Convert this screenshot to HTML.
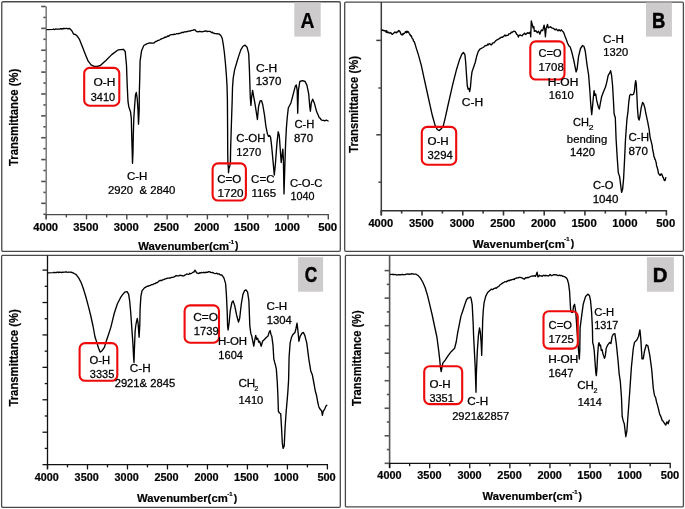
<!DOCTYPE html>
<html><head><meta charset="utf-8"><style>
html,body{margin:0;padding:0;background:#fff;}
svg{display:block;will-change:transform;}
text{font-family:"Liberation Sans",sans-serif;}
</style></head><body>
<svg width="685" height="509" viewBox="0 0 685 509">
<rect width="685" height="509" fill="#fff"/>
<rect x="1.75" y="1.75" width="338.55" height="249.55" rx="1.2" fill="none" stroke="#4a4a4a" stroke-width="1.3"/>
<rect x="294.30" y="2.50" width="26.40" height="34.10" rx="0" fill="#cdcbcb"/>
<line x1="46.20" y1="6.50" x2="46.20" y2="219.20" stroke="#808080" stroke-width="1.6"/>
<line x1="45.60" y1="214.60" x2="328.90" y2="214.60" stroke="#4a4a4a" stroke-width="1.4"/>
<line x1="46.20" y1="214.60" x2="46.20" y2="219.40" stroke="#4a4a4a" stroke-width="1.4"/>
<line x1="66.35" y1="214.60" x2="66.35" y2="217.40" stroke="#4a4a4a" stroke-width="1.4"/>
<line x1="86.50" y1="214.60" x2="86.50" y2="219.40" stroke="#4a4a4a" stroke-width="1.4"/>
<line x1="106.65" y1="214.60" x2="106.65" y2="217.40" stroke="#4a4a4a" stroke-width="1.4"/>
<line x1="126.80" y1="214.60" x2="126.80" y2="219.40" stroke="#4a4a4a" stroke-width="1.4"/>
<line x1="146.95" y1="214.60" x2="146.95" y2="217.40" stroke="#4a4a4a" stroke-width="1.4"/>
<line x1="167.10" y1="214.60" x2="167.10" y2="219.40" stroke="#4a4a4a" stroke-width="1.4"/>
<line x1="187.25" y1="214.60" x2="187.25" y2="217.40" stroke="#4a4a4a" stroke-width="1.4"/>
<line x1="207.40" y1="214.60" x2="207.40" y2="219.40" stroke="#4a4a4a" stroke-width="1.4"/>
<line x1="227.55" y1="214.60" x2="227.55" y2="217.40" stroke="#4a4a4a" stroke-width="1.4"/>
<line x1="247.70" y1="214.60" x2="247.70" y2="219.40" stroke="#4a4a4a" stroke-width="1.4"/>
<line x1="267.85" y1="214.60" x2="267.85" y2="217.40" stroke="#4a4a4a" stroke-width="1.4"/>
<line x1="288.00" y1="214.60" x2="288.00" y2="219.40" stroke="#4a4a4a" stroke-width="1.4"/>
<line x1="308.15" y1="214.60" x2="308.15" y2="217.40" stroke="#4a4a4a" stroke-width="1.4"/>
<line x1="328.30" y1="214.60" x2="328.30" y2="219.40" stroke="#4a4a4a" stroke-width="1.4"/>
<line x1="41.20" y1="6.50" x2="45.70" y2="6.50" stroke="#505050" stroke-width="1.6"/>
<line x1="43.40" y1="17.44" x2="45.70" y2="17.44" stroke="#505050" stroke-width="1.6"/>
<line x1="41.20" y1="28.37" x2="45.70" y2="28.37" stroke="#505050" stroke-width="1.6"/>
<line x1="43.40" y1="39.30" x2="45.70" y2="39.30" stroke="#505050" stroke-width="1.6"/>
<line x1="41.20" y1="50.24" x2="45.70" y2="50.24" stroke="#505050" stroke-width="1.6"/>
<line x1="43.40" y1="61.18" x2="45.70" y2="61.18" stroke="#505050" stroke-width="1.6"/>
<line x1="41.20" y1="72.11" x2="45.70" y2="72.11" stroke="#505050" stroke-width="1.6"/>
<line x1="43.40" y1="83.05" x2="45.70" y2="83.05" stroke="#505050" stroke-width="1.6"/>
<line x1="41.20" y1="93.98" x2="45.70" y2="93.98" stroke="#505050" stroke-width="1.6"/>
<line x1="43.40" y1="104.92" x2="45.70" y2="104.92" stroke="#505050" stroke-width="1.6"/>
<line x1="41.20" y1="115.85" x2="45.70" y2="115.85" stroke="#505050" stroke-width="1.6"/>
<line x1="43.40" y1="126.79" x2="45.70" y2="126.79" stroke="#505050" stroke-width="1.6"/>
<line x1="41.20" y1="137.72" x2="45.70" y2="137.72" stroke="#505050" stroke-width="1.6"/>
<line x1="43.40" y1="148.66" x2="45.70" y2="148.66" stroke="#505050" stroke-width="1.6"/>
<line x1="41.20" y1="159.59" x2="45.70" y2="159.59" stroke="#505050" stroke-width="1.6"/>
<line x1="43.40" y1="170.53" x2="45.70" y2="170.53" stroke="#505050" stroke-width="1.6"/>
<line x1="41.20" y1="181.46" x2="45.70" y2="181.46" stroke="#505050" stroke-width="1.6"/>
<line x1="43.40" y1="192.40" x2="45.70" y2="192.40" stroke="#505050" stroke-width="1.6"/>
<line x1="41.20" y1="203.33" x2="45.70" y2="203.33" stroke="#505050" stroke-width="1.6"/>
<line x1="43.40" y1="214.27" x2="45.70" y2="214.27" stroke="#505050" stroke-width="1.6"/>
<text transform="translate(33.18,230.69) scale(1.033,1)" font-size="10.85" font-weight="bold" stroke="#000" stroke-width="0.2" fill="#000" >4000</text>
<text transform="translate(73.37,230.69) scale(1.037,1)" font-size="10.85" font-weight="bold" stroke="#000" stroke-width="0.2" fill="#000" >3500</text>
<text transform="translate(113.67,230.69) scale(1.037,1)" font-size="10.85" font-weight="bold" stroke="#000" stroke-width="0.2" fill="#000" >3000</text>
<text transform="translate(153.85,230.69) scale(1.042,1)" font-size="10.85" font-weight="bold" stroke="#000" stroke-width="0.2" fill="#000" >2500</text>
<text transform="translate(194.15,230.69) scale(1.042,1)" font-size="10.85" font-weight="bold" stroke="#000" stroke-width="0.2" fill="#000" >2000</text>
<text transform="translate(234.10,230.69) scale(1.057,1)" font-size="10.85" font-weight="bold" stroke="#000" stroke-width="0.2" fill="#000" >1500</text>
<text transform="translate(274.40,230.69) scale(1.057,1)" font-size="10.85" font-weight="bold" stroke="#000" stroke-width="0.2" fill="#000" >1000</text>
<text transform="translate(318.14,230.69) scale(1.054,1)" font-size="10.85" font-weight="bold" stroke="#000" stroke-width="0.2" fill="#000" >500</text>
<text transform="translate(18.00,166.01) rotate(-90) scale(0.867,1)" font-size="13.04" font-weight="bold" stroke="#000" stroke-width="0.2">Transmittance (%)</text>
<text transform="translate(138.20,249.50) scale(1.004,1)" font-size="11.30" font-weight="bold" stroke="#000" stroke-width="0.2" fill="#000" >Wavenumber(cm</text>
<text transform="translate(228.66,243.50) scale(1.078,1)" font-size="5.51" font-weight="bold" stroke="#000" stroke-width="0.2" fill="#000" >-1</text>
<text transform="translate(235.05,249.34) scale(1.009,1)" font-size="10.27" font-weight="bold" stroke="#000" stroke-width="0.2" fill="#000" >)</text>
<path d="M46.9,29.6 L52.8,29.3 L53.5,29.0 L54.3,29.5 L55.0,29.4 L55.8,29.0 L56.5,29.2 L57.2,29.1 L58.0,29.2 L58.7,29.1 L59.4,29.2 L60.2,28.7 L60.9,28.6 L61.7,29.1 L62.4,28.7 L63.1,28.9 L63.9,28.3 L64.6,28.5 L65.4,28.6 L66.1,28.4 L66.8,28.3 L67.6,28.9 L68.3,28.9 L69.1,28.4 L69.8,28.8 L70.5,29.2 L71.3,30.3 L72.0,31.0 L73.5,34.0 L75.7,34.7 L77.1,35.9 L79.3,39.1 L82.3,46.5 L85.2,53.9 L88.2,61.2 L91.1,64.9 L94.1,66.4 L97.0,66.5 L100.0,65.7 L105.9,60.5 L111.7,54.6 L117.6,50.2 L120.1,49.7 L123.5,49.3 L125.2,51.5 L126.5,65.5 L127.2,85.0 L128.0,101.7 L128.8,106.7 L130.5,111.7 L131.3,118.3 L131.7,135.0 L132.2,151.7 L132.5,163.3 L133.0,151.7 L133.3,135.0 L133.8,118.3 L134.7,105.0 L135.5,95.0 L136.3,92.5 L137.2,98.3 L138.0,110.0 L138.5,124.2 L139.2,110.0 L139.3,93.3 L139.7,80.0 L140.1,60.9 L141.6,50.7 L143.8,45.5 L146.7,43.8 L149.6,42.9 L153.2,43.1 L153.9,43.1 L154.7,42.2 L155.4,41.7 L156.2,41.5 L156.9,41.2 L157.6,40.5 L158.4,40.3 L159.1,40.1 L159.8,39.8 L160.6,39.3 L161.3,38.9 L162.0,38.6 L162.7,38.4 L163.5,38.0 L164.2,37.8 L164.9,37.1 L165.7,37.4 L166.4,36.9 L167.1,36.6 L167.8,35.9 L168.6,36.3 L169.3,35.8 L170.0,34.9 L170.8,34.8 L171.5,34.6 L172.2,34.7 L173.0,34.5 L173.7,34.6 L174.4,34.1 L175.2,34.3 L175.9,34.0 L176.6,33.6 L177.3,33.7 L178.1,33.8 L178.8,33.4 L179.5,33.5 L180.3,33.1 L181.0,33.0 L181.7,32.3 L182.4,32.3 L183.2,32.6 L183.9,32.1 L184.6,31.8 L185.4,31.9 L186.1,31.7 L186.8,31.7 L187.6,31.5 L188.3,31.1 L189.0,31.1 L189.8,31.0 L190.5,31.0 L191.2,30.7 L191.9,30.4 L192.7,30.3 L193.4,30.2 L194.1,29.6 L194.8,29.8 L195.6,30.4 L196.3,31.4 L197.0,31.6 L197.8,31.9 L198.5,31.6 L199.2,31.5 L200.0,31.4 L200.7,31.7 L201.4,31.6 L202.2,31.9 L202.9,31.6 L203.6,31.3 L204.4,31.4 L205.1,31.0 L205.8,30.9 L206.6,31.1 L207.3,31.6 L208.0,31.3 L208.8,31.3 L209.5,31.4 L210.2,31.5 L210.9,32.0 L211.7,32.6 L212.4,32.1 L213.1,33.0 L213.8,33.1 L214.5,33.5 L215.2,33.6 L215.9,33.6 L216.7,33.8 L217.4,33.7 L218.1,33.8 L218.8,33.9 L219.8,34.6 L220.8,35.5 L222.2,38.3 L223.2,43.8 L224.3,52.0 L225.4,63.0 L226.3,74.0 L227.0,85.0 L227.4,100.0 L227.6,127.0 L227.7,150.0 L227.9,163.0 L228.4,168.5 L228.5,172.7 L228.9,168.5 L229.8,166.0 L230.4,163.0 L230.6,150.0 L231.3,127.0 L232.2,100.0 L232.5,87.8 L233.2,78.1 L234.6,69.9 L236.6,63.0 L238.7,56.1 L240.8,49.9 L242.8,46.5 L244.9,45.1 L247.1,47.3 L248.7,53.6 L249.4,69.3 L250.3,97.4 L250.9,105.4 L251.6,97.4 L252.6,90.4 L253.5,95.7 L254.8,102.7 L256.5,113.3 L257.4,119.5 L258.6,106.3 L260.1,101.0 L261.5,100.6 L262.7,104.5 L264.5,115.1 L265.9,126.3 L267.5,134.2 L268.6,136.5 L269.5,135.4 L270.6,137.3 L271.7,146.7 L273.0,160.9 L274.3,175.0 L275.4,164.0 L276.9,143.6 L278.2,131.8 L279.3,135.7 L280.4,151.4 L281.2,162.5 L282.0,156.2 L282.8,149.1 L283.4,159.3 L284.0,193.9 L284.8,167.2 L285.6,143.6 L286.4,127.9 L287.2,118.0 L288.3,108.0 L291.0,102.7 L293.3,93.9 L295.4,85.9 L296.3,85.0 L297.2,90.4 L297.7,113.3 L298.4,90.4 L299.8,81.5 L302.5,80.6 L305.1,81.5 L306.9,85.1 L308.7,93.9 L309.9,108.0 L310.4,111.2 L311.3,102.7 L312.7,99.2 L314.5,103.6 L316.6,111.6 L319.3,117.8 L320.2,118.1 L321.0,119.7 L321.9,120.1 L322.8,120.4 L323.7,120.3 L324.6,120.8 L325.5,120.5 L326.4,120.1 L327.2,120.5 L328.1,121.0" fill="none" stroke="#000" stroke-width="1.35" stroke-linejoin="round" stroke-linecap="round"/>
<rect x="84.20" y="67.90" width="35.10" height="37.80" rx="5.5" fill="none" stroke="#ee0a0a" stroke-width="2.1"/>
<rect x="212.60" y="163.40" width="33.30" height="37.10" rx="5.5" fill="none" stroke="#ee0a0a" stroke-width="2.1"/>
<text transform="translate(93.46,86.20) scale(1.148,1)" font-size="10.42" stroke="#000" stroke-width="0.25" fill="#000" >O-H</text>
<text transform="translate(90.76,100.69) scale(0.997,1)" font-size="10.99" stroke="#000" stroke-width="0.25" fill="#000" >3410</text>
<text transform="translate(126.92,180.39) scale(1.079,1)" font-size="10.70" stroke="#000" stroke-width="0.25" fill="#000" >C-H</text>
<text transform="translate(107.93,194.09) scale(1.007,1)" font-size="11.27" stroke="#000" stroke-width="0.25" fill="#000" >2920 &#160;&amp; 2840</text>
<text transform="translate(217.23,182.90) scale(1.143,1)" font-size="10.05" stroke="#000" stroke-width="0.25" fill="#000" >C=O</text>
<text transform="translate(217.53,196.89) scale(1.104,1)" font-size="10.56" stroke="#000" stroke-width="0.25" fill="#000" >1720</text>
<text transform="translate(251.12,183.09) scale(1.077,1)" font-size="10.70" stroke="#000" stroke-width="0.25" fill="#000" >C=C</text>
<text transform="translate(251.44,196.89) scale(1.089,1)" font-size="10.56" stroke="#000" stroke-width="0.25" fill="#000" >1165</text>
<text transform="translate(236.23,141.90) scale(1.115,1)" font-size="10.28" stroke="#000" stroke-width="0.25" fill="#000" >C-OH</text>
<text transform="translate(236.26,155.60) scale(1.073,1)" font-size="10.42" stroke="#000" stroke-width="0.25" fill="#000" >1270</text>
<text transform="translate(255.90,71.70) scale(1.198,1)" font-size="10.05" stroke="#000" stroke-width="0.25" fill="#000" >C-H</text>
<text transform="translate(255.63,84.90) scale(1.151,1)" font-size="10.05" stroke="#000" stroke-width="0.25" fill="#000" >1370</text>
<text transform="translate(294.44,128.30) scale(1.119,1)" font-size="10.05" stroke="#000" stroke-width="0.25" fill="#000" >C-H</text>
<text transform="translate(293.98,141.50) scale(1.140,1)" font-size="10.05" stroke="#000" stroke-width="0.25" fill="#000" >870</text>
<text transform="translate(289.94,186.50) scale(1.081,1)" font-size="10.42" stroke="#000" stroke-width="0.25" fill="#000" >C-O-C</text>
<text transform="translate(290.49,199.59) scale(0.971,1)" font-size="11.13" stroke="#000" stroke-width="0.25" fill="#000" >1040</text>
<text transform="translate(300.51,27.70) scale(0.911,1)" font-size="21.30" font-weight="bold" stroke="#000" stroke-width="0.2" fill="#000" >A</text>
<rect x="344.70" y="2.10" width="338.70" height="249.20" rx="1.2" fill="none" stroke="#4a4a4a" stroke-width="1.3"/>
<rect x="646.00" y="2.50" width="25.90" height="34.10" rx="0" fill="#cdcbcb"/>
<line x1="381.30" y1="2.10" x2="381.30" y2="215.30" stroke="#3a3a3a" stroke-width="1.5"/>
<line x1="380.70" y1="210.70" x2="667.00" y2="210.70" stroke="#333" stroke-width="1.6"/>
<line x1="381.30" y1="210.70" x2="381.30" y2="215.50" stroke="#333" stroke-width="1.6"/>
<line x1="401.66" y1="210.70" x2="401.66" y2="213.50" stroke="#333" stroke-width="1.6"/>
<line x1="422.03" y1="210.70" x2="422.03" y2="215.50" stroke="#333" stroke-width="1.6"/>
<line x1="442.39" y1="210.70" x2="442.39" y2="213.50" stroke="#333" stroke-width="1.6"/>
<line x1="462.76" y1="210.70" x2="462.76" y2="215.50" stroke="#333" stroke-width="1.6"/>
<line x1="483.12" y1="210.70" x2="483.12" y2="213.50" stroke="#333" stroke-width="1.6"/>
<line x1="503.49" y1="210.70" x2="503.49" y2="215.50" stroke="#333" stroke-width="1.6"/>
<line x1="523.85" y1="210.70" x2="523.85" y2="213.50" stroke="#333" stroke-width="1.6"/>
<line x1="544.21" y1="210.70" x2="544.21" y2="215.50" stroke="#333" stroke-width="1.6"/>
<line x1="564.58" y1="210.70" x2="564.58" y2="213.50" stroke="#333" stroke-width="1.6"/>
<line x1="584.94" y1="210.70" x2="584.94" y2="215.50" stroke="#333" stroke-width="1.6"/>
<line x1="605.31" y1="210.70" x2="605.31" y2="213.50" stroke="#333" stroke-width="1.6"/>
<line x1="625.67" y1="210.70" x2="625.67" y2="215.50" stroke="#333" stroke-width="1.6"/>
<line x1="646.04" y1="210.70" x2="646.04" y2="213.50" stroke="#333" stroke-width="1.6"/>
<line x1="666.40" y1="210.70" x2="666.40" y2="215.50" stroke="#333" stroke-width="1.6"/>
<line x1="376.30" y1="40.40" x2="380.80" y2="40.40" stroke="#3a3a3a" stroke-width="1.5"/>
<line x1="378.50" y1="88.00" x2="380.80" y2="88.00" stroke="#3a3a3a" stroke-width="1.5"/>
<line x1="376.30" y1="134.80" x2="380.80" y2="134.80" stroke="#3a3a3a" stroke-width="1.5"/>
<line x1="378.50" y1="182.20" x2="380.80" y2="182.20" stroke="#3a3a3a" stroke-width="1.5"/>
<text transform="translate(368.38,226.69) scale(1.024,1)" font-size="10.85" font-weight="bold" stroke="#000" stroke-width="0.2" fill="#000" >4000</text>
<text transform="translate(409.00,226.69) scale(1.029,1)" font-size="10.85" font-weight="bold" stroke="#000" stroke-width="0.2" fill="#000" >3500</text>
<text transform="translate(449.73,226.69) scale(1.029,1)" font-size="10.85" font-weight="bold" stroke="#000" stroke-width="0.2" fill="#000" >3000</text>
<text transform="translate(490.34,226.69) scale(1.034,1)" font-size="10.85" font-weight="bold" stroke="#000" stroke-width="0.2" fill="#000" >2500</text>
<text transform="translate(531.07,226.69) scale(1.034,1)" font-size="10.85" font-weight="bold" stroke="#000" stroke-width="0.2" fill="#000" >2000</text>
<text transform="translate(571.45,226.69) scale(1.048,1)" font-size="10.85" font-weight="bold" stroke="#000" stroke-width="0.2" fill="#000" >1500</text>
<text transform="translate(612.18,226.69) scale(1.048,1)" font-size="10.85" font-weight="bold" stroke="#000" stroke-width="0.2" fill="#000" >1000</text>
<text transform="translate(656.32,226.69) scale(1.045,1)" font-size="10.85" font-weight="bold" stroke="#000" stroke-width="0.2" fill="#000" >500</text>
<text transform="translate(357.80,152.81) rotate(-90) scale(0.862,1)" font-size="13.04" font-weight="bold" stroke="#000" stroke-width="0.2">Transmittance (%)</text>
<text transform="translate(472.80,247.50) scale(0.979,1)" font-size="11.74" font-weight="bold" stroke="#000" stroke-width="0.2" fill="#000" >Wavenumber(cm</text>
<text transform="translate(564.36,241.20) scale(1.078,1)" font-size="5.51" font-weight="bold" stroke="#000" stroke-width="0.2" fill="#000" >-1</text>
<text transform="translate(570.75,247.28) scale(0.978,1)" font-size="10.59" font-weight="bold" stroke="#000" stroke-width="0.2" fill="#000" >)</text>
<path d="M381.7,30.0 L385.5,31.0 L385.9,32.0 L386.2,32.2 L386.6,30.7 L386.9,31.0 L387.2,32.5 L387.6,32.5 L387.9,32.5 L388.3,32.4 L388.7,32.2 L389.1,32.9 L389.5,33.0 L389.9,33.1 L390.3,33.1 L390.7,32.6 L391.0,33.2 L391.4,33.2 L391.7,33.9 L392.1,34.4 L392.4,34.4 L392.8,33.8 L393.1,33.8 L393.5,33.5 L393.9,32.9 L394.3,32.3 L394.7,32.1 L395.1,32.7 L395.5,32.5 L395.9,32.1 L396.3,32.1 L396.7,32.8 L397.1,32.0 L397.5,32.0 L397.9,31.7 L398.2,31.1 L398.6,30.5 L398.9,30.9 L399.3,31.0 L399.7,31.0 L400.2,32.4 L400.6,33.1 L401.1,34.6 L401.5,34.6 L402.0,34.9 L402.5,33.9 L402.9,34.7 L403.4,33.5 L403.8,33.7 L404.2,33.2 L404.6,33.2 L405.0,32.5 L405.4,31.7 L405.8,32.2 L406.1,31.4 L406.4,32.6 L406.8,32.5 L407.1,31.1 L407.5,32.2 L407.8,32.1 L408.2,31.7 L408.6,32.2 L408.9,32.8 L409.2,33.3 L409.6,33.8 L410.0,35.1 L410.4,34.9 L410.8,36.0 L411.2,35.7 L411.6,36.5 L412.0,38.0 L412.4,38.8 L412.8,38.8 L413.2,39.8 L413.6,41.2 L414.0,41.6 L414.4,42.0 L416.5,48.9 L418.5,55.1 L421.3,65.4 L424.0,77.8 L426.9,91.0 L429.6,103.4 L432.4,115.8 L435.1,125.4 L437.2,129.5 L439.3,130.6 L441.3,128.8 L443.4,125.4 L445.4,117.1 L447.5,107.5 L450.3,95.1 L453.1,82.9 L456.3,70.3 L459.4,60.1 L461.8,54.3 L463.4,52.5 L464.9,54.6 L465.7,62.5 L466.5,75.0 L467.3,86.0 L468.1,89.2 L468.9,88.4 L469.7,91.5 L470.4,87.6 L471.2,78.2 L472.0,71.9 L473.6,67.2 L475.2,62.5 L476.7,56.2 L478.3,51.4 L479.9,49.1 L483.0,47.5 L483.8,47.0 L484.6,46.1 L485.4,45.7 L486.2,45.5 L487.0,45.3 L487.8,44.0 L488.5,44.7 L489.3,43.6 L490.1,43.8 L490.9,44.8 L491.7,44.8 L492.4,43.2 L493.2,42.8 L494.0,42.9 L494.8,41.9 L495.6,40.9 L496.4,40.3 L497.2,39.7 L498.0,39.5 L498.8,39.0 L499.5,38.2 L500.3,38.1 L501.1,37.2 L501.9,37.2 L502.6,37.4 L503.4,36.4 L504.2,35.7 L505.0,34.9 L505.8,36.0 L506.6,35.4 L507.4,35.4 L508.1,35.3 L508.9,33.7 L509.7,33.8 L510.5,33.7 L511.3,32.1 L512.1,32.5 L512.9,31.8 L513.7,31.2 L514.5,31.3 L515.2,31.7 L516.0,32.9 L516.8,34.5 L517.6,34.9 L518.4,37.0 L519.2,35.3 L520.0,34.9 L520.8,35.3 L521.5,35.7 L522.3,35.8 L523.1,34.3 L523.9,34.2 L524.1,33.4 L524.8,33.2 L525.5,34.5 L526.2,34.1 L527.6,32.7 L528.9,33.4 L530.3,32.0 L530.7,36.8 L531.3,21.0 L532.4,25.1 L533.1,27.9 L533.8,26.5 L534.4,31.3 L535.8,30.6 L536.5,31.5 L537.2,32.7 L538.6,31.3 L539.9,34.1 L541.3,29.9 L542.0,30.6 L542.7,30.6 L544.1,25.1 L544.8,29.3 L545.4,36.8 L546.1,28.6 L547.5,24.4 L548.2,27.9 L549.6,27.2 L550.6,26.8 L551.6,27.9 L552.5,28.1 L553.5,28.3 L554.4,29.3 L555.3,29.8 L556.2,29.0 L557.1,29.9 L558.0,30.9 L559.0,29.6 L559.9,30.6 L560.6,31.0 L561.3,29.8 L562.0,30.6 L563.3,32.0 L564.0,33.3 L564.7,35.4 L566.1,38.9 L567.5,43.0 L568.8,45.8 L570.2,47.1 L571.6,51.3 L573.6,59.5 L575.0,66.4 L576.1,71.9 L577.1,69.1 L578.5,56.8 L580.5,48.5 L582.6,45.5 L584.0,46.5 L585.3,51.3 L586.7,62.3 L587.2,66.0 L588.6,74.8 L589.9,91.3 L590.6,102.3 L591.3,110.5 L591.7,114.6 L592.4,107.8 L593.4,96.8 L594.1,90.6 L594.8,95.4 L595.7,94.0 L596.8,100.9 L598.2,106.4 L599.3,109.1 L600.3,103.6 L601.6,96.8 L603.7,91.3 L605.5,87.1 L606.9,81.6 L608.2,75.4 L609.9,72.7 L610.6,70.6 L611.5,74.8 L612.6,85.8 L613.4,100.0 L614.1,113.8 L615.3,117.7 L616.1,139.3 L617.3,158.9 L618.3,172.7 L619.6,176.6 L620.6,184.5 L621.6,192.3 L622.6,189.4 L623.6,178.6 L624.6,158.9 L625.5,139.3 L626.9,119.6 L628.0,111.3 L628.8,101.8 L629.7,95.4 L630.8,94.2 L632.0,95.0 L633.6,94.2 L634.4,91.2 L635.1,84.2 L635.7,80.6 L636.3,84.2 L636.9,95.9 L637.5,108.9 L638.3,118.3 L639.1,120.1 L640.0,116.0 L641.2,107.7 L642.6,102.4 L643.6,103.6 L644.8,107.7 L645.9,113.6 L647.7,121.9 L649.2,130.0 L650.1,137.3 L652.1,145.2 L652.5,148.7 L653.0,151.1 L653.5,153.4 L654.0,157.0 L654.5,157.4 L654.9,159.3 L655.4,159.9 L655.8,161.4 L656.2,162.5 L656.6,166.0 L657.0,166.8 L657.5,168.5 L658.0,170.6 L658.5,173.7 L659.0,173.9 L659.4,174.8 L659.9,175.0 L660.3,175.4 L660.7,174.2 L661.1,174.5 L661.5,173.9 L661.9,174.7 L662.4,175.6 L662.8,177.1 L663.3,177.6 L663.8,179.0 L664.3,180.3 L664.8,180.6 L665.3,179.6 L665.8,177.6" fill="none" stroke="#000" stroke-width="1.35" stroke-linejoin="round" stroke-linecap="round"/>
<rect x="421.80" y="126.90" width="34.40" height="37.80" rx="5.5" fill="none" stroke="#ee0a0a" stroke-width="2.1"/>
<rect x="530.30" y="41.40" width="34.20" height="38.10" rx="5.5" fill="none" stroke="#ee0a0a" stroke-width="2.1"/>
<text transform="translate(427.48,145.40) scale(1.129,1)" font-size="10.28" stroke="#000" stroke-width="0.25" fill="#000" >O-H</text>
<text transform="translate(427.55,158.69) scale(1.058,1)" font-size="10.70" stroke="#000" stroke-width="0.25" fill="#000" >3294</text>
<text transform="translate(461.80,106.30) scale(1.198,1)" font-size="10.05" stroke="#000" stroke-width="0.25" fill="#000" >C-H</text>
<text transform="translate(538.45,57.39) scale(1.035,1)" font-size="10.70" stroke="#000" stroke-width="0.25" fill="#000" >C=O</text>
<text transform="translate(538.45,70.80) scale(1.106,1)" font-size="10.28" stroke="#000" stroke-width="0.25" fill="#000" >1708</text>
<text transform="translate(547.64,86.20) scale(1.197,1)" font-size="10.05" stroke="#000" stroke-width="0.25" fill="#000" >H-OH</text>
<text transform="translate(548.86,99.10) scale(1.073,1)" font-size="10.42" stroke="#000" stroke-width="0.25" fill="#000" >1610</text>
<text transform="translate(603.11,43.00) scale(1.167,1)" font-size="10.05" stroke="#000" stroke-width="0.25" fill="#000" >C-H</text>
<text transform="translate(603.36,56.30) scale(1.108,1)" font-size="10.05" stroke="#000" stroke-width="0.25" fill="#000" >1320</text>
<text transform="translate(572.95,125.69) scale(1.034,1)" font-size="10.70" stroke="#000" stroke-width="0.25" fill="#000" >CH</text>
<text transform="translate(588.67,129.50) scale(1.154,1)" font-size="7.43" stroke="#000" stroke-width="0.25" fill="#000" >2</text>
<text transform="translate(566.86,142.97) scale(0.982,1)" font-size="11.55" stroke="#000" stroke-width="0.25" fill="#000" >bending</text>
<text transform="translate(569.95,156.09) scale(1.054,1)" font-size="10.70" stroke="#000" stroke-width="0.25" fill="#000" >1420</text>
<text transform="translate(628.52,141.19) scale(1.093,1)" font-size="10.56" stroke="#000" stroke-width="0.25" fill="#000" >C-H</text>
<text transform="translate(628.58,154.50) scale(1.117,1)" font-size="10.42" stroke="#000" stroke-width="0.25" fill="#000" >870</text>
<text transform="translate(592.94,188.90) scale(1.093,1)" font-size="10.28" stroke="#000" stroke-width="0.25" fill="#000" >C-O</text>
<text transform="translate(592.63,202.59) scale(1.080,1)" font-size="10.70" stroke="#000" stroke-width="0.25" fill="#000" >1040</text>
<text transform="translate(652.11,27.70) scale(0.862,1)" font-size="21.30" font-weight="bold" fill="#000" stroke="#000" stroke-width="0.5">B</text>
<rect x="1.60" y="255.40" width="338.70" height="251.90" rx="1.2" fill="none" stroke="#4a4a4a" stroke-width="1.3"/>
<rect x="298.10" y="257.20" width="25.00" height="34.50" rx="0" fill="#cdcbcb"/>
<line x1="47.50" y1="255.50" x2="47.50" y2="469.20" stroke="#111" stroke-width="1.3"/>
<line x1="46.90" y1="464.60" x2="328.00" y2="464.60" stroke="#111" stroke-width="1.3"/>
<line x1="47.50" y1="464.60" x2="47.50" y2="469.40" stroke="#111" stroke-width="1.3"/>
<line x1="67.49" y1="464.60" x2="67.49" y2="467.40" stroke="#111" stroke-width="1.3"/>
<line x1="87.49" y1="464.60" x2="87.49" y2="469.40" stroke="#111" stroke-width="1.3"/>
<line x1="107.48" y1="464.60" x2="107.48" y2="467.40" stroke="#111" stroke-width="1.3"/>
<line x1="127.47" y1="464.60" x2="127.47" y2="469.40" stroke="#111" stroke-width="1.3"/>
<line x1="147.46" y1="464.60" x2="147.46" y2="467.40" stroke="#111" stroke-width="1.3"/>
<line x1="167.46" y1="464.60" x2="167.46" y2="469.40" stroke="#111" stroke-width="1.3"/>
<line x1="187.45" y1="464.60" x2="187.45" y2="467.40" stroke="#111" stroke-width="1.3"/>
<line x1="207.44" y1="464.60" x2="207.44" y2="469.40" stroke="#111" stroke-width="1.3"/>
<line x1="227.44" y1="464.60" x2="227.44" y2="467.40" stroke="#111" stroke-width="1.3"/>
<line x1="247.43" y1="464.60" x2="247.43" y2="469.40" stroke="#111" stroke-width="1.3"/>
<line x1="267.42" y1="464.60" x2="267.42" y2="467.40" stroke="#111" stroke-width="1.3"/>
<line x1="287.41" y1="464.60" x2="287.41" y2="469.40" stroke="#111" stroke-width="1.3"/>
<line x1="307.41" y1="464.60" x2="307.41" y2="467.40" stroke="#111" stroke-width="1.3"/>
<line x1="327.40" y1="464.60" x2="327.40" y2="469.40" stroke="#111" stroke-width="1.3"/>
<line x1="42.50" y1="270.10" x2="47.00" y2="270.10" stroke="#111" stroke-width="1.3"/>
<line x1="44.70" y1="286.31" x2="47.00" y2="286.31" stroke="#111" stroke-width="1.3"/>
<line x1="42.50" y1="302.52" x2="47.00" y2="302.52" stroke="#111" stroke-width="1.3"/>
<line x1="44.70" y1="318.73" x2="47.00" y2="318.73" stroke="#111" stroke-width="1.3"/>
<line x1="42.50" y1="334.94" x2="47.00" y2="334.94" stroke="#111" stroke-width="1.3"/>
<line x1="44.70" y1="351.15" x2="47.00" y2="351.15" stroke="#111" stroke-width="1.3"/>
<line x1="42.50" y1="367.36" x2="47.00" y2="367.36" stroke="#111" stroke-width="1.3"/>
<line x1="44.70" y1="383.57" x2="47.00" y2="383.57" stroke="#111" stroke-width="1.3"/>
<line x1="42.50" y1="399.78" x2="47.00" y2="399.78" stroke="#111" stroke-width="1.3"/>
<line x1="44.70" y1="415.99" x2="47.00" y2="415.99" stroke="#111" stroke-width="1.3"/>
<line x1="42.50" y1="432.20" x2="47.00" y2="432.20" stroke="#111" stroke-width="1.3"/>
<line x1="44.70" y1="448.41" x2="47.00" y2="448.41" stroke="#111" stroke-width="1.3"/>
<line x1="42.50" y1="464.62" x2="47.00" y2="464.62" stroke="#111" stroke-width="1.3"/>
<text transform="translate(34.74,480.80) scale(1.063,1)" font-size="10.14" font-weight="bold" stroke="#000" stroke-width="0.2" fill="#000" >4000</text>
<text transform="translate(74.61,480.80) scale(1.068,1)" font-size="10.14" font-weight="bold" stroke="#000" stroke-width="0.2" fill="#000" >3500</text>
<text transform="translate(114.60,480.80) scale(1.068,1)" font-size="10.14" font-weight="bold" stroke="#000" stroke-width="0.2" fill="#000" >3000</text>
<text transform="translate(154.48,480.80) scale(1.073,1)" font-size="10.14" font-weight="bold" stroke="#000" stroke-width="0.2" fill="#000" >2500</text>
<text transform="translate(194.46,480.80) scale(1.073,1)" font-size="10.14" font-weight="bold" stroke="#000" stroke-width="0.2" fill="#000" >2000</text>
<text transform="translate(234.11,480.80) scale(1.088,1)" font-size="10.14" font-weight="bold" stroke="#000" stroke-width="0.2" fill="#000" >1500</text>
<text transform="translate(274.10,480.80) scale(1.088,1)" font-size="10.14" font-weight="bold" stroke="#000" stroke-width="0.2" fill="#000" >1000</text>
<text transform="translate(317.39,480.80) scale(1.085,1)" font-size="10.14" font-weight="bold" stroke="#000" stroke-width="0.2" fill="#000" >500</text>
<text transform="translate(17.90,406.61) rotate(-90) scale(0.919,1)" font-size="12.32" font-weight="bold" stroke="#000" stroke-width="0.2">Transmittance (%)</text>
<text transform="translate(137.00,501.80) scale(0.989,1)" font-size="11.45" font-weight="bold" stroke="#000" stroke-width="0.2" fill="#000" >Wavenumber(cm</text>
<text transform="translate(227.26,495.70) scale(1.078,1)" font-size="5.51" font-weight="bold" stroke="#000" stroke-width="0.2" fill="#000" >-1</text>
<text transform="translate(233.65,501.62) scale(0.998,1)" font-size="10.37" font-weight="bold" stroke="#000" stroke-width="0.2" fill="#000" >)</text>
<path d="M47.8,272.9 L52.9,272.6 L53.6,272.4 L54.3,272.6 L55.0,272.4 L55.7,272.6 L56.4,272.5 L57.2,272.2 L57.9,272.1 L58.6,272.6 L59.3,272.2 L60.0,272.2 L60.7,272.3 L61.5,272.5 L62.3,272.2 L63.1,272.4 L63.8,272.1 L64.6,272.1 L65.4,272.0 L66.2,271.8 L67.0,272.1 L67.8,272.3 L68.6,272.1 L69.4,272.2 L70.2,272.1 L71.0,272.4 L71.8,272.2 L72.5,272.9 L73.3,272.9 L74.1,273.5 L74.8,273.8 L75.6,274.1 L76.4,274.9 L78.8,278.1 L81.2,282.8 L83.5,289.1 L85.9,297.0 L88.2,305.6 L90.6,315.0 L93.0,326.0 L95.0,337.0 L96.8,342.4 L98.6,348.3 L100.1,352.1 L102.1,350.7 L104.5,347.1 L106.2,341.2 L108.6,334.2 L110.9,327.1 L114.2,313.5 L117.3,304.0 L120.5,297.7 L122.4,294.9 L124.7,292.2 L127.1,291.7 L128.6,294.1 L129.7,301.2 L130.7,312.2 L131.8,327.9 L132.9,343.6 L133.6,357.0 L134.0,362.4 L134.3,352.0 L135.1,331.8 L135.7,326.0 L136.5,321.6 L137.3,318.5 L138.1,323.2 L139.1,337.3 L139.8,324.7 L140.1,309.0 L140.9,296.4 L142.0,290.9 L144.4,287.8 L147.5,286.2 L148.3,286.2 L149.1,285.6 L149.8,285.5 L150.6,285.3 L151.4,284.7 L152.2,284.6 L153.0,284.5 L153.8,283.8 L154.6,283.6 L155.4,283.5 L156.2,282.7 L156.9,282.7 L157.7,282.3 L158.5,281.5 L159.3,280.8 L160.1,280.5 L160.9,280.3 L161.7,280.6 L162.5,279.9 L163.3,279.6 L164.1,279.5 L164.8,279.0 L165.6,278.9 L166.4,278.5 L167.2,278.4 L168.0,278.1 L168.8,278.1 L169.6,277.9 L170.3,278.0 L171.1,277.6 L171.9,277.3 L172.7,277.4 L173.5,277.1 L174.2,276.9 L175.0,276.4 L175.8,275.7 L176.6,275.7 L177.4,275.9 L178.2,275.9 L178.9,275.8 L179.7,275.4 L180.5,275.2 L181.3,275.7 L182.1,275.5 L182.9,276.0 L183.7,275.9 L184.5,275.2 L185.3,275.0 L186.1,274.5 L186.8,274.0 L187.6,274.1 L188.4,274.3 L189.2,274.2 L189.9,273.2 L190.7,273.7 L191.5,273.3 L192.3,272.8 L193.1,272.2 L193.9,272.1 L194.9,270.2 L195.7,271.2 L196.5,272.6 L197.3,273.1 L198.1,273.5 L198.9,273.4 L199.7,272.8 L200.4,273.1 L201.2,272.4 L202.0,272.6 L202.8,272.7 L203.6,272.3 L204.4,272.7 L205.2,272.3 L206.0,272.6 L206.8,272.1 L207.5,272.4 L208.3,271.7 L209.1,271.8 L209.9,271.7 L210.6,272.4 L211.4,272.6 L212.2,272.4 L213.0,272.7 L213.8,273.1 L214.6,273.4 L215.4,273.6 L216.2,273.3 L216.9,273.2 L217.7,274.1 L218.5,273.8 L219.3,273.9 L220.1,274.8 L220.9,275.0 L221.7,274.9 L222.5,275.9 L223.2,277.0 L224.0,278.1 L225.6,283.6 L226.4,294.6 L227.2,311.9 L227.6,326.0 L228.1,330.0 L229.1,322.9 L230.3,310.3 L231.9,302.5 L233.1,300.9 L234.7,305.6 L236.6,315.0 L238.5,322.1 L239.7,318.2 L241.3,304.0 L242.9,294.6 L244.5,290.7 L246.0,289.9 L247.6,292.2 L248.9,300.9 L249.8,325.5 L250.8,333.4 L251.8,336.3 L252.8,341.3 L253.8,346.2 L254.7,340.3 L255.7,335.4 L256.7,339.3 L257.7,338.3 L258.7,342.2 L259.6,341.3 L261.2,346.2 L262.6,341.3 L264.6,339.3 L266.5,337.3 L267.9,336.3 L269.1,332.4 L270.1,330.5 L271.0,334.4 L271.8,336.3 L273.0,345.2 L273.8,358.9 L274.8,362.9 L275.4,364.8 L276.3,368.8 L277.3,382.5 L277.9,395.7 L278.4,411.4 L279.5,413.0 L280.7,413.8 L281.5,427.2 L282.3,442.9 L283.1,448.4 L284.2,446.0 L285.1,427.2 L286.2,411.4 L287.8,392.6 L288.6,380.0 L289.1,357.0 L290.1,343.2 L291.5,337.3 L293.0,334.4 L295.0,332.4 L296.0,328.5 L297.0,323.2 L298.0,331.4 L298.9,341.3 L300.1,336.3 L301.9,333.4 L303.3,332.4 L304.8,335.4 L306.8,343.2 L308.8,358.9 L310.7,370.7 L312.3,374.7 L313.7,382.0 L315.3,391.0 L316.6,395.7 L317.7,402.0 L318.8,406.7 L320.0,409.1 L321.6,410.7 L322.4,415.4 L323.2,411.4 L324.7,409.1 L326.0,405.9 L326.8,405.2" fill="none" stroke="#000" stroke-width="1.35" stroke-linejoin="round" stroke-linecap="round"/>
<rect x="79.60" y="343.10" width="37.70" height="37.70" rx="5.5" fill="none" stroke="#ee0a0a" stroke-width="2.1"/>
<rect x="184.60" y="305.40" width="34.40" height="37.30" rx="5.5" fill="none" stroke="#ee0a0a" stroke-width="2.1"/>
<text transform="translate(89.49,364.49) scale(1.066,1)" font-size="10.56" stroke="#000" stroke-width="0.25" fill="#000" >O-H</text>
<text transform="translate(89.86,377.89) scale(0.989,1)" font-size="11.13" stroke="#000" stroke-width="0.25" fill="#000" >3335</text>
<text transform="translate(129.81,372.30) scale(1.126,1)" font-size="10.42" stroke="#000" stroke-width="0.25" fill="#000" >C-H</text>
<text transform="translate(114.64,386.80) scale(1.093,1)" font-size="10.28" stroke="#000" stroke-width="0.25" fill="#000" >2921&amp; 2845</text>
<text transform="translate(193.21,321.20) scale(1.183,1)" font-size="10.05" stroke="#000" stroke-width="0.25" fill="#000" >C=O</text>
<text transform="translate(193.66,334.59) scale(1.012,1)" font-size="11.13" stroke="#000" stroke-width="0.25" fill="#000" >1739</text>
<text transform="translate(217.88,345.20) scale(1.098,1)" font-size="10.42" stroke="#000" stroke-width="0.25" fill="#000" >H-OH</text>
<text transform="translate(218.37,359.00) scale(1.064,1)" font-size="10.42" stroke="#000" stroke-width="0.25" fill="#000" >1604</text>
<text transform="translate(266.52,310.10) scale(1.129,1)" font-size="10.28" stroke="#000" stroke-width="0.25" fill="#000" >C-H</text>
<text transform="translate(266.65,323.90) scale(1.101,1)" font-size="10.28" stroke="#000" stroke-width="0.25" fill="#000" >1304</text>
<text transform="translate(238.42,387.09) scale(1.050,1)" font-size="11.13" stroke="#000" stroke-width="0.25" fill="#000" >CH</text>
<text transform="translate(254.56,390.90) scale(0.994,1)" font-size="6.86" stroke="#000" stroke-width="0.25" fill="#000" >2</text>
<text transform="translate(238.46,403.79) scale(1.005,1)" font-size="11.13" stroke="#000" stroke-width="0.25" fill="#000" >1410</text>
<text transform="translate(304.71,282.38) scale(0.780,1)" font-size="22.11" font-weight="bold" fill="#000" stroke="#000" stroke-width="0.5">C</text>
<rect x="345.40" y="255.40" width="338.00" height="251.50" rx="1.2" fill="none" stroke="#4a4a4a" stroke-width="1.3"/>
<rect x="646.90" y="257.20" width="27.00" height="34.50" rx="0" fill="#cdcbcb"/>
<line x1="389.60" y1="255.50" x2="389.60" y2="468.00" stroke="#555" stroke-width="1.6"/>
<line x1="389.00" y1="463.40" x2="670.80" y2="463.40" stroke="#111" stroke-width="1.3"/>
<line x1="389.60" y1="463.40" x2="389.60" y2="468.20" stroke="#111" stroke-width="1.3"/>
<line x1="409.64" y1="463.40" x2="409.64" y2="466.20" stroke="#111" stroke-width="1.3"/>
<line x1="429.69" y1="463.40" x2="429.69" y2="468.20" stroke="#111" stroke-width="1.3"/>
<line x1="449.73" y1="463.40" x2="449.73" y2="466.20" stroke="#111" stroke-width="1.3"/>
<line x1="469.77" y1="463.40" x2="469.77" y2="468.20" stroke="#111" stroke-width="1.3"/>
<line x1="489.81" y1="463.40" x2="489.81" y2="466.20" stroke="#111" stroke-width="1.3"/>
<line x1="509.86" y1="463.40" x2="509.86" y2="468.20" stroke="#111" stroke-width="1.3"/>
<line x1="529.90" y1="463.40" x2="529.90" y2="466.20" stroke="#111" stroke-width="1.3"/>
<line x1="549.94" y1="463.40" x2="549.94" y2="468.20" stroke="#111" stroke-width="1.3"/>
<line x1="569.99" y1="463.40" x2="569.99" y2="466.20" stroke="#111" stroke-width="1.3"/>
<line x1="590.03" y1="463.40" x2="590.03" y2="468.20" stroke="#111" stroke-width="1.3"/>
<line x1="610.07" y1="463.40" x2="610.07" y2="466.20" stroke="#111" stroke-width="1.3"/>
<line x1="630.11" y1="463.40" x2="630.11" y2="468.20" stroke="#111" stroke-width="1.3"/>
<line x1="650.16" y1="463.40" x2="650.16" y2="466.20" stroke="#111" stroke-width="1.3"/>
<line x1="670.20" y1="463.40" x2="670.20" y2="468.20" stroke="#111" stroke-width="1.3"/>
<line x1="384.60" y1="270.60" x2="389.10" y2="270.60" stroke="#555" stroke-width="1.6"/>
<line x1="386.80" y1="284.37" x2="389.10" y2="284.37" stroke="#555" stroke-width="1.6"/>
<line x1="384.60" y1="298.13" x2="389.10" y2="298.13" stroke="#555" stroke-width="1.6"/>
<line x1="386.80" y1="311.90" x2="389.10" y2="311.90" stroke="#555" stroke-width="1.6"/>
<line x1="384.60" y1="325.66" x2="389.10" y2="325.66" stroke="#555" stroke-width="1.6"/>
<line x1="386.80" y1="339.43" x2="389.10" y2="339.43" stroke="#555" stroke-width="1.6"/>
<line x1="384.60" y1="353.19" x2="389.10" y2="353.19" stroke="#555" stroke-width="1.6"/>
<line x1="386.80" y1="366.96" x2="389.10" y2="366.96" stroke="#555" stroke-width="1.6"/>
<line x1="384.60" y1="380.72" x2="389.10" y2="380.72" stroke="#555" stroke-width="1.6"/>
<line x1="386.80" y1="394.49" x2="389.10" y2="394.49" stroke="#555" stroke-width="1.6"/>
<line x1="384.60" y1="408.25" x2="389.10" y2="408.25" stroke="#555" stroke-width="1.6"/>
<line x1="386.80" y1="422.02" x2="389.10" y2="422.02" stroke="#555" stroke-width="1.6"/>
<line x1="384.60" y1="435.78" x2="389.10" y2="435.78" stroke="#555" stroke-width="1.6"/>
<line x1="386.80" y1="449.55" x2="389.10" y2="449.55" stroke="#555" stroke-width="1.6"/>
<line x1="384.60" y1="463.31" x2="389.10" y2="463.31" stroke="#555" stroke-width="1.6"/>
<text transform="translate(377.34,478.80) scale(1.072,1)" font-size="10.14" font-weight="bold" stroke="#000" stroke-width="0.2" fill="#000" >4000</text>
<text transform="translate(417.31,478.80) scale(1.077,1)" font-size="10.14" font-weight="bold" stroke="#000" stroke-width="0.2" fill="#000" >3500</text>
<text transform="translate(457.40,478.80) scale(1.077,1)" font-size="10.14" font-weight="bold" stroke="#000" stroke-width="0.2" fill="#000" >3000</text>
<text transform="translate(497.37,478.80) scale(1.082,1)" font-size="10.14" font-weight="bold" stroke="#000" stroke-width="0.2" fill="#000" >2500</text>
<text transform="translate(537.46,478.80) scale(1.082,1)" font-size="10.14" font-weight="bold" stroke="#000" stroke-width="0.2" fill="#000" >2000</text>
<text transform="translate(577.20,478.80) scale(1.098,1)" font-size="10.14" font-weight="bold" stroke="#000" stroke-width="0.2" fill="#000" >1500</text>
<text transform="translate(617.29,478.80) scale(1.098,1)" font-size="10.14" font-weight="bold" stroke="#000" stroke-width="0.2" fill="#000" >1000</text>
<text transform="translate(660.72,478.80) scale(1.094,1)" font-size="10.14" font-weight="bold" stroke="#000" stroke-width="0.2" fill="#000" >500</text>
<text transform="translate(360.90,406.01) rotate(-90) scale(0.862,1)" font-size="12.90" font-weight="bold" stroke="#000" stroke-width="0.2">Transmittance (%)</text>
<text transform="translate(482.50,499.70) scale(0.995,1)" font-size="11.30" font-weight="bold" stroke="#000" stroke-width="0.2" fill="#000" >Wavenumber(cm</text>
<text transform="translate(572.16,493.70) scale(1.078,1)" font-size="5.51" font-weight="bold" stroke="#000" stroke-width="0.2" fill="#000" >-1</text>
<text transform="translate(578.55,499.54) scale(1.009,1)" font-size="10.27" font-weight="bold" stroke="#000" stroke-width="0.2" fill="#000" >)</text>
<path d="M390.5,274.5 L391.3,274.4 L392.1,274.3 L392.8,274.5 L393.6,274.4 L394.4,274.6 L395.1,274.4 L395.8,274.6 L396.5,275.0 L397.2,274.9 L397.9,274.9 L398.6,274.6 L399.3,274.9 L400.0,274.7 L400.7,274.9 L401.4,274.6 L402.1,274.5 L402.8,274.5 L403.5,274.8 L404.2,274.7 L404.9,274.6 L405.6,274.5 L406.3,274.1 L407.0,274.2 L407.8,274.0 L408.6,274.2 L409.4,274.2 L410.1,274.2 L410.9,274.1 L411.7,273.6 L412.5,273.8 L413.3,274.0 L414.1,274.1 L414.9,274.1 L415.7,274.2 L416.5,274.4 L417.2,275.0 L418.0,275.4 L420.4,278.1 L422.7,282.0 L425.1,287.5 L427.5,295.4 L429.8,304.8 L432.2,315.0 L434.5,326.0 L436.9,337.0 L438.6,349.9 L439.7,359.3 L440.4,367.2 L441.2,371.6 L442.0,367.2 L442.8,363.2 L445.2,360.1 L448.3,355.4 L451.4,351.4 L454.6,348.3 L456.2,342.0 L457.7,332.6 L459.3,324.7 L460.9,316.4 L462.9,310.5 L464.8,304.6 L466.3,300.2 L467.8,298.0 L469.2,297.8 L470.5,297.0 L471.2,298.8 L472.2,304.6 L472.7,314.5 L473.2,324.3 L473.6,335.7 L474.4,351.4 L475.2,367.2 L476.0,392.3 L476.3,375.0 L477.3,351.4 L478.4,335.7 L479.5,327.9 L480.4,332.6 L481.2,343.6 L481.7,355.4 L482.3,335.7 L482.7,320.0 L483.3,310.0 L484.1,302.7 L485.7,296.4 L487.6,292.5 L490.7,289.8 L491.5,289.1 L492.3,289.6 L493.1,289.3 L493.9,288.6 L494.7,288.4 L495.4,287.9 L496.2,288.2 L497.0,287.5 L497.8,286.9 L498.6,286.5 L499.4,285.7 L500.2,284.7 L501.0,284.2 L501.8,283.6 L502.5,283.2 L503.3,282.6 L504.1,282.3 L504.9,281.7 L505.6,281.6 L506.4,281.8 L507.2,280.8 L508.0,281.0 L508.8,280.3 L509.6,280.6 L510.4,280.0 L511.1,280.0 L511.9,279.7 L512.7,279.5 L513.5,279.1 L514.3,279.5 L515.1,278.4 L515.9,278.3 L516.7,277.9 L517.5,277.9 L518.3,277.9 L519.0,277.4 L519.8,277.3 L520.6,277.3 L521.4,277.9 L522.2,277.9 L522.9,278.5 L523.7,278.8 L524.5,279.0 L525.3,278.0 L526.1,277.7 L526.9,277.9 L527.7,277.4 L528.5,277.6 L529.2,277.2 L530.0,276.8 L530.8,276.3 L531.6,276.2 L532.4,275.9 L533.2,276.0 L534.0,276.1 L534.7,275.7 L535.5,276.3 L536.3,274.4 L537.1,272.1 L537.9,276.8 L538.7,276.4 L539.5,275.2 L540.3,275.9 L541.0,275.8 L541.8,276.3 L542.6,276.0 L543.4,275.3 L544.2,275.4 L545.0,275.9 L545.8,275.2 L546.6,275.7 L547.3,275.6 L548.1,276.0 L548.8,275.9 L549.5,275.1 L550.2,274.4 L551.0,275.4 L551.8,275.7 L552.6,275.2 L553.4,274.7 L554.2,274.7 L555.0,274.8 L555.8,274.6 L556.5,275.0 L557.3,275.2 L558.1,275.8 L558.8,275.3 L559.6,275.1 L560.4,275.7 L561.2,275.4 L562.0,275.7 L562.8,276.4 L563.6,276.3 L564.4,276.6 L565.1,277.0 L565.9,277.6 L566.7,278.3 L567.5,279.9 L568.6,283.9 L569.6,291.7 L570.2,302.7 L570.7,310.6 L571.4,312.2 L572.7,312.2 L573.6,306.0 L574.6,304.3 L575.8,312.2 L577.0,330.0 L578.5,350.0 L579.3,359.0 L579.8,350.0 L580.1,327.9 L581.7,315.3 L583.2,304.3 L585.6,296.4 L588.0,294.1 L589.5,295.7 L590.6,301.2 L591.6,312.2 L592.4,327.9 L592.7,342.6 L593.5,345.7 L594.2,350.4 L595.0,361.4 L595.8,372.5 L596.3,375.6 L596.9,369.3 L597.7,353.6 L598.5,344.2 L599.0,342.6 L599.7,345.7 L600.5,344.9 L601.3,350.4 L602.1,349.7 L602.9,353.6 L604.5,358.3 L605.3,355.9 L606.2,348.3 L607.8,344.8 L609.7,342.4 L610.9,343.6 L612.1,336.5 L613.3,334.2 L614.9,333.7 L616.3,343.6 L618.0,360.1 L619.2,374.2 L620.3,381.3 L621.5,397.8 L622.2,416.7 L623.4,421.4 L624.3,423.8 L625.8,436.7 L626.9,430.8 L628.1,414.3 L629.8,390.8 L631.4,367.2 L633.3,348.3 L634.5,342.4 L636.8,340.0 L638.5,336.5 L639.9,329.9 L640.8,338.9 L642.0,358.9 L643.2,358.9 L644.6,350.7 L646.3,344.8 L647.9,345.9 L649.8,355.4 L651.7,369.5 L653.3,388.4 L654.5,395.5 L655.7,397.8 L656.5,401.9 L657.4,404.9 L658.2,407.9 L658.9,410.8 L659.7,414.3 L660.5,415.7 L661.3,417.7 L662.1,420.2 L663.0,421.0 L664.0,422.6 L664.9,424.0 L665.8,425.0 L666.8,421.9 L667.5,422.4 L668.2,423.8 L669.2,420.2" fill="none" stroke="#000" stroke-width="1.35" stroke-linejoin="round" stroke-linecap="round"/>
<rect x="424.20" y="366.20" width="38.00" height="37.90" rx="5.5" fill="none" stroke="#ee0a0a" stroke-width="2.1"/>
<rect x="543.50" y="311.20" width="34.30" height="37.40" rx="5.5" fill="none" stroke="#ee0a0a" stroke-width="2.1"/>
<text transform="translate(429.48,387.59) scale(1.085,1)" font-size="10.70" stroke="#000" stroke-width="0.25" fill="#000" >O-H</text>
<text transform="translate(429.46,401.59) scale(1.033,1)" font-size="10.56" stroke="#000" stroke-width="0.25" fill="#000" >3351</text>
<text transform="translate(467.31,405.10) scale(1.157,1)" font-size="10.14" stroke="#000" stroke-width="0.25" fill="#000" >C-H</text>
<text transform="translate(452.14,419.50) scale(1.071,1)" font-size="10.42" stroke="#000" stroke-width="0.25" fill="#000" >2921&amp;2857</text>
<text transform="translate(548.54,329.09) scale(1.050,1)" font-size="10.70" stroke="#000" stroke-width="0.25" fill="#000" >C=O</text>
<text transform="translate(548.55,342.69) scale(1.031,1)" font-size="10.99" stroke="#000" stroke-width="0.25" fill="#000" >1725</text>
<text transform="translate(548.15,363.40) scale(1.176,1)" font-size="10.05" stroke="#000" stroke-width="0.25" fill="#000" >H-OH</text>
<text transform="translate(548.56,377.39) scale(1.010,1)" font-size="11.13" stroke="#000" stroke-width="0.25" fill="#000" >1647</text>
<text transform="translate(594.14,315.50) scale(1.073,1)" font-size="10.42" stroke="#000" stroke-width="0.25" fill="#000" >C-H</text>
<text transform="translate(594.19,329.09) scale(1.014,1)" font-size="10.70" stroke="#000" stroke-width="0.25" fill="#000" >1317</text>
<text transform="translate(577.22,388.59) scale(1.084,1)" font-size="10.70" stroke="#000" stroke-width="0.25" fill="#000" >CH</text>
<text transform="translate(593.44,392.50) scale(0.923,1)" font-size="7.86" stroke="#000" stroke-width="0.25" fill="#000" >2</text>
<text transform="translate(577.68,406.30) scale(1.059,1)" font-size="10.29" stroke="#000" stroke-width="0.25" fill="#000" >1414</text>
<text transform="translate(652.68,281.90) scale(0.967,1)" font-size="21.01" font-weight="bold" fill="#000" stroke="#000" stroke-width="0.5">D</text>
</svg>
</body></html>
